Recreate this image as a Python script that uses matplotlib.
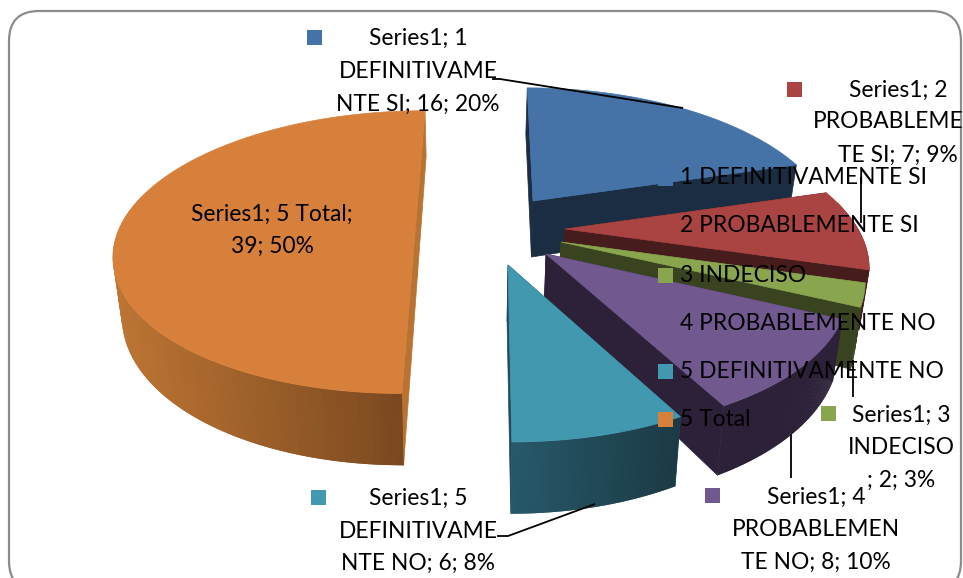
"""
plot.py

3D exploded pie chart, drawn by hand because matplotlib has no perspective pie.
Slice angles come from the values; the rest is the projection.
"""

import numpy as np
import matplotlib
matplotlib.use("Agg")
import matplotlib.pyplot as plt
from matplotlib.patches import FancyBboxPatch, Rectangle

plt.rcParams["font.family"] = ["Lato", "DejaVu Sans"]

CATEGORIES = ["1 DEFINITIVAMENTE SI", "2 PROBABLEMENTE SI", "3 INDECISO",
              "4 PROBABLEMENTE NO", "5 DEFINITIVAMENTE NO", "5 Total"]
VALUES = [16, 7, 2, 8, 6, 39]
LABEL_LINES = [
    ["Series1; 1", "DEFINITIVAME", "NTE SI; 16; 20%"],
    ["Series1; 2", "PROBABLEME", "TE SI; 7; 9%"],
    ["Series1; 3", "INDECISO", "; 2; 3%"],
    ["Series1; 4", "PROBABLEMEN", "TE NO; 8; 10%"],
    ["Series1; 5", "DEFINITIVAME", "NTE NO; 6; 8%"],
    ["Series1; 5 Total;", "39; 50%"],
]

# styling, in pixels of the output image
FACE = ["#4572a7", "#a94442", "#89a54e", "#71588f", "#4198af", "#d7803b"]
SIDE_L = ["#1b2d42", "#471c1c", "#3a431f", "#2c2138", "#27596a", "#bd7534"]
SIDE_R = ["#1b2d42", "#471c1c", "#3a431f", "#2c2138", "#1b3a45", "#79481f"]
WALL = ["#1b2d42", "#471c1c", "#3a431f", "#2c2138", "#1f4a58", "#b87333"]
APEX = [(533, 201), (565, 229), (561, 242), (546, 254), (508, 265), (416, 221)]
SHEAR = [-7, -15, -15, -8, -3, 11]
SCALE = [1, 1, 1, 1, 1, 0.975]
PERSP = 0.22
RX, RY = 293, 138
DEPTH = 56
VANISH_X = 470

LABEL_POS = [(418, [38, 71, 104]), (898, [90, 122, 155]), (901, [415, 447, 480]),
             (816, [497, 529, 562]), (418, [498, 531, 563]), (272, [214, 246])]
LABEL_BOX = [(307, 30), (787, 82), (821, 406), (705, 488), (311, 490), (159, 205)]
LEADERS = [
    ([492, 500, 683], [79, 79, 108]),
    ([861, 861], [177, 223]),
    ([853, 853], [360, 397]),
    ([791, 791], [434, 478]),
    ([497, 508, 595], [536, 536, 504]),
]
LEGEND_Y = [178, 226, 275, 323, 371, 419]


def project(i, deg):
    """plate angle (clockwise from the back) to image pixels, top and bottom rim"""
    a = np.radians(deg)
    u, v = np.sin(a), np.cos(a)
    w = 1 + PERSP * v
    x = APEX[i][0] + (RX * u + SHEAR[i] * v) / w
    y = APEX[i][1] - SCALE[i] * RY * v / w
    xb = x + (VANISH_X - x) * 0.025
    yb = y + DEPTH / w
    return x, y, xb, yb, v


def lerp_color(c0, c1, t):
    c0 = np.array(matplotlib.colors.to_rgb(c0))
    c1 = np.array(matplotlib.colors.to_rgb(c1))
    return c0 + (c1 - c0) * t


def draw_slice(ax, i, a0, a1):
    apex = APEX[i]
    degs = np.linspace(a0, a1, 160)
    x, y, xb, yb, v = project(i, degs)
    apex_b = (apex[0] + (VANISH_X - apex[0]) * 0.025, apex[1] + DEPTH)

    # the two flat walls
    for k in (0, -1):
        ax.fill([apex[0], x[k], xb[k], apex_b[0]], [apex[1], y[k], yb[k], apex_b[1]],
                color=WALL[i], lw=0.5)

    # outer rim, only the front part shows. quads overlap so no seams in the gradient
    front = np.where(v < 0.2)[0]
    if len(front) > 1:
        xmin, xmax = x[front].min(), x[front].max()
        # paint from the back of the arc towards the front
        order = front if v[front[0]] > v[front[-1]] else front[::-1]
        for j, n in zip(order[:-1], order[1:]):
            m = n + (n - j)
            m = min(max(m, front[0]), front[-1])
            t = (x[j] - xmin) / max(xmax - xmin, 1)
            ax.fill([x[j], x[m], xb[m], xb[j]], [y[j], y[m], yb[m], yb[j]],
                    color=lerp_color(SIDE_L[i], SIDE_R[i], t), lw=0)

    ax.fill(np.r_[apex[0], x], np.r_[apex[1], y], color=FACE[i], lw=0.5)


def main():
    fig = plt.figure(figsize=(9.63, 5.78), dpi=100)
    ax = fig.add_axes([0, 0, 1, 1])
    ax.set_xlim(0, 963)
    ax.set_ylim(578, 0)
    ax.axis("off")

    ax.add_patch(FancyBboxPatch((39, 41), 892, 520, boxstyle="round,pad=30,rounding_size=30",
                                fc="white", ec="#8c8c8c", lw=1.6))

    ends = np.cumsum(VALUES) / sum(VALUES) * 360
    starts = np.r_[0, ends[:-1]]

    # orange sits behind everything else
    for i in [5, 0, 1, 2, 3, 4]:
        draw_slice(ax, i, starts[i], ends[i])

    for xs, ys in LEADERS:
        ax.plot(xs, ys, color="black", lw=1.3, solid_capstyle="butt")

    for i, (lines, (cx, ys)) in enumerate(zip(LABEL_LINES, LABEL_POS)):
        ax.add_patch(Rectangle(LABEL_BOX[i], 15, 15, fc=FACE[i], ec="none", zorder=5))
        for line, yy in zip(lines, ys):
            # this line runs up against the right edge in the original
            xx = 888 if line == "PROBABLEME" else cx
            ax.text(xx, yy, line, ha="center", va="center", fontsize=16.4, color="black", zorder=6)

    for i, (name, yy) in enumerate(zip(CATEGORIES, LEGEND_Y)):
        ax.add_patch(Rectangle((658, yy - 7.5), 15, 15, fc=FACE[i], ec="none", zorder=5))
        ax.text(680, yy, name, ha="left", va="center", fontsize=16.4, color="black", zorder=6)

    fig.savefig("out.png", dpi=100)


if __name__ == "__main__":
    main()
